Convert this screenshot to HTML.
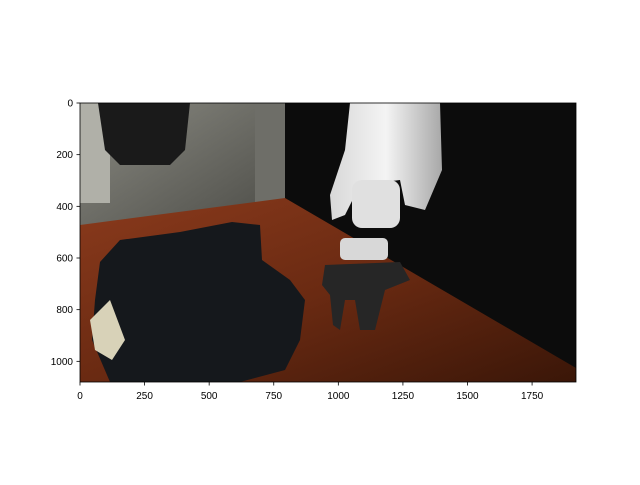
<!DOCTYPE html>
<html><head><meta charset="utf-8"><style>
body{margin:0;background:#fff;}
svg text{font-family:"Liberation Sans","DejaVu Sans",sans-serif;font-size:10px;fill:#000}
</style></head><body>
<svg id="chart" width="640" height="480" xmlns="http://www.w3.org/2000/svg">
<rect width="640" height="480" fill="#fff"/>
<defs>
<clipPath id="ax"><rect x="80" y="103" width="496" height="279"/></clipPath>
<linearGradient id="room" x1="0" y1="0" x2="1" y2="1"><stop offset="0" stop-color="#8a8a82"/><stop offset="1" stop-color="#4a4a45"/></linearGradient>
<linearGradient id="wood" x1="0" y1="0" x2="1" y2="1"><stop offset="0" stop-color="#8a3a1c"/><stop offset="0.5" stop-color="#6a2a12"/><stop offset="1" stop-color="#3a1608"/></linearGradient>
<linearGradient id="arm" x1="0" y1="0" x2="1" y2="0"><stop offset="0" stop-color="#d8d8d8"/><stop offset="0.5" stop-color="#f4f4f4"/><stop offset="1" stop-color="#a8a8a8"/></linearGradient>
</defs>
<g clip-path="url(#ax)">
<rect x="80" y="103" width="496" height="279" fill="#0c0c0c"/>
<rect x="80" y="103" width="205" height="130" fill="url(#room)"/>
<rect x="80" y="103" width="30" height="100" fill="#b0b0a8"/>
<rect x="255" y="103" width="30" height="110" fill="#6e6e68"/>
<path d="M98,103 L190,103 L185,150 L170,165 L120,165 L105,150Z" fill="#1a1a1a"/>
<path d="M80,225 L285,198 L576,368 L576,382 L80,382Z" fill="url(#wood)"/>
<path d="M100,262 L120,240 L180,232 L232,222 L260,225 L262,260 L290,280 L305,300 L300,340 L285,370 L240,382 L110,382 L92,340 L95,300Z" fill="#15181c"/>
<path d="M90,320 L110,300 L125,340 L112,360 L95,350Z" fill="#d8d2b8"/>
<path d="M350,103 L440,103 L442,170 L425,210 L405,205 L400,180 L360,185 L345,215 L332,220 L330,195 L345,150Z" fill="url(#arm)"/>
<rect x="352" y="180" width="48" height="48" rx="10" fill="#e0e0e0"/>
<rect x="340" y="238" width="48" height="22" rx="5" fill="#d8d8d8"/>
<path d="M325,265 L400,262 L410,280 L385,290 L375,330 L360,330 L355,300 L345,300 L340,330 L333,325 L330,295 L322,285Z" fill="#262626"/>
</g>
<rect x="80" y="103" width="496" height="279" fill="none" stroke="#000" stroke-width="0.8"/>
<g id="xt"></g>
<g id="yt"></g>
</svg>
<script>
const xTicks=[0,250,500,750,1000,1250,1500,1750];
const yTicks=[0,200,400,600,800,1000];
const imgW=1920, imgH=1080;
const X0=80,X1=576,Y0=103,Y1=382;
const sx=v=>X0+v/imgW*(X1-X0), sy=v=>Y0+v/imgH*(Y1-Y0);
const NS="http://www.w3.org/2000/svg";
const xt=document.getElementById('xt'), yt=document.getElementById('yt');
xTicks.forEach(v=>{
 const l=document.createElementNS(NS,'line');
 
 
 l.setAttribute('x1',sx(v));l.setAttribute('x2',sx(v));l.setAttribute('y1',Y1);l.setAttribute('y2',Y1+3.5);l.setAttribute('stroke','#000');l.setAttribute('stroke-width','0.8');
 xt.appendChild(l);
 const t=document.createElementNS(NS,'text');
 
 
 t.setAttribute('x',sx(v));t.setAttribute('y',Y1+17);t.setAttribute('text-anchor','middle');t.textContent=v;
 xt.appendChild(t);
});
yTicks.forEach(v=>{
 const l=document.createElementNS(NS,'line');
 
 
 l.setAttribute('x1',X0-3.5);l.setAttribute('x2',X0);l.setAttribute('y1',sy(v));l.setAttribute('y2',sy(v));l.setAttribute('stroke','#000');l.setAttribute('stroke-width','0.8');
 yt.appendChild(l);
 const t=document.createElementNS(NS,'text');
 
 
 t.setAttribute('x',X0-7);t.setAttribute('y',sy(v)+3.5);t.setAttribute('text-anchor','end');t.textContent=v;
 yt.appendChild(t);
});
</script>
</body></html>
